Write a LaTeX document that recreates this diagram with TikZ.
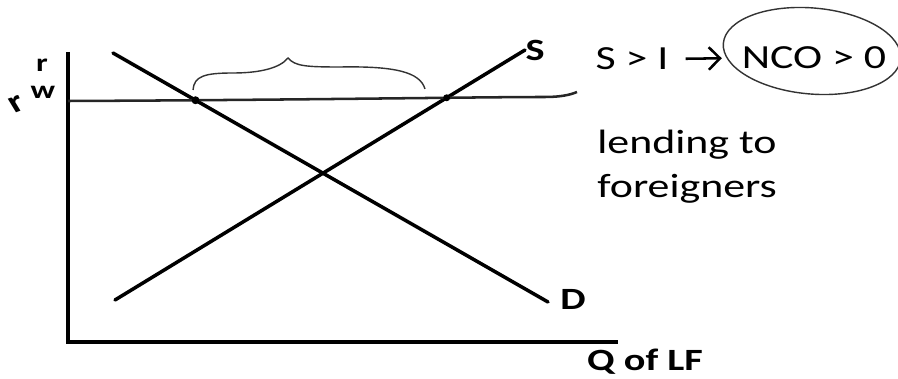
\documentclass[tikz,border=0pt]{standalone}
\usepackage{fontspec}
\setmainfont{Carlito}
\usetikzlibrary{arrows.meta,intersections}

\begin{document}
\begin{tikzpicture}[x=0.025cm,y=-0.025cm,
    every node/.style={inner sep=0pt, xscale=1.3},
    lbl/.style={font=\fontsize{24}{31}\selectfont},
    axlbl/.style={font=\fontsize{22}{26}\selectfont\bfseries},
    rlbl/.style={font=\fontsize{18}{20}\selectfont\bfseries},
    curve/.style={line width=2.5pt, line cap=round}]
    \clip (0,0) rectangle (898,379);
    \coordinate (top) at (68,52);
    \coordinate (orig) at (68,342);
    \coordinate (xend) at (618,342);
    \draw[line width=2.8pt] (top) -- (orig) -- (xend);
    \draw[curve, name path=dline] (113,53) -- (548,302);
    \draw[curve, name path=sline] (115,300) -- (525,50);
    \draw[line width=1.8pt, black!85, name path=rwline] (68,101) .. controls (300,100) and (480,97) .. (545,97) .. controls (560,97) and (570,95) .. (577,92);
    \path[name intersections={of=dline and rwline, by=dw}];
    \path[name intersections={of=sline and rwline, by=sw}];
    \fill (dw) circle (4);
    \fill (sw) circle (3.5);
    \draw[line width=1pt, black!80] (193,90) .. controls (194,76) and (205,73) .. (233,73) .. controls (260,73) and (280,68) .. (288,58) .. controls (295,66) and (305,67) .. (340,67) .. controls (395,66) and (420,72) .. (425,89);
    \node[axlbl] (slbl) at (535,50) {S};
    \node[axlbl] (dlbl) at (573,299) {D};
    \node[axlbl] (qlf) at (645,362) {Q of LF};
    \node[rlbl] (rlab) at (42,65) {r};
    \node[rlbl] (wlab) at (43,92) {w};
    \node[axlbl, rotate=25] (rwlab) at (17,104) {r};
    \node[lbl] (sgi) at (632,59) {S > I};
    \node[lbl] (nco) at (814,58) {NCO > 0};
    \node[lbl, align=left, anchor=north west] (lend) at (597,130) {lending to\\foreigners};
    \draw[-{Straight Barb[length=8pt,width=16pt]}, line width=1.8pt, shorten <=12pt, shorten >=14pt] (sgi.east) -- (nco.west);
    \draw[line width=1pt, black!80] (812,51) ellipse [x radius=89, y radius=43, rotate=-5];
\end{tikzpicture}
\end{document}
